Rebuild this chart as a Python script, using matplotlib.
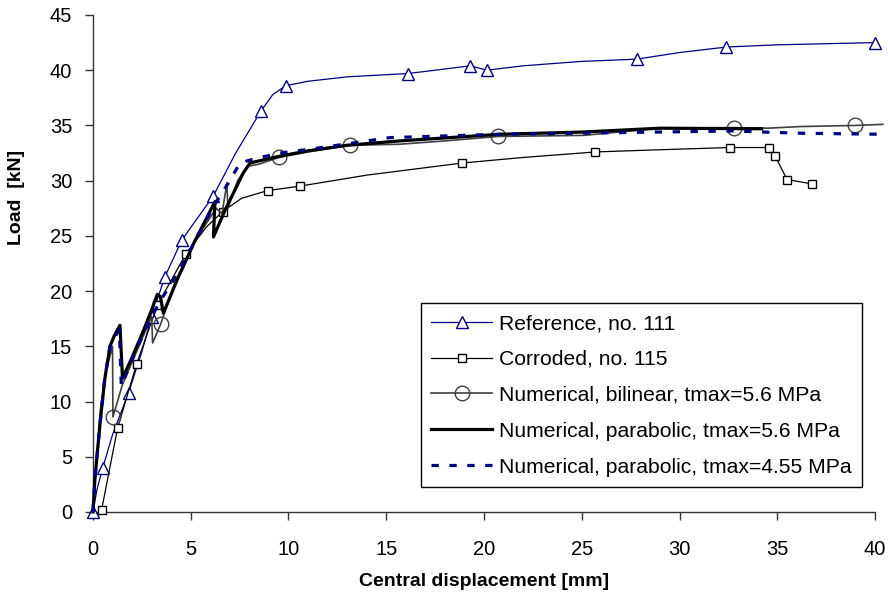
import matplotlib
matplotlib.use("Agg")
import matplotlib.pyplot as plt

plt.rcParams['font.family'] = ['Liberation Sans', 'DejaVu Sans']

# Reference, no. 111
ref_x = [0, 0.2, 0.5, 1.0, 1.82, 2.5, 3.0, 3.68, 4.54, 5.3, 6.15, 7.3, 8.59, 9.2, 9.86,
         11, 13, 16.1, 17.5, 19.3, 20.15, 22, 25, 27.8, 30, 32.4, 35, 37.5, 40]
ref_y = [0, 2.0, 4.0, 7.0, 10.8, 14.5, 17.7, 21.3, 24.6, 26.5, 28.6, 32.5, 36.3, 37.8, 38.6,
         39.0, 39.4, 39.7, 40.0, 40.4, 40.0, 40.4, 40.8, 41.0, 41.6, 42.1, 42.3, 42.4, 42.5]
ref_marks = [0, 2, 4, 6, 7, 8, 10, 12, 14, 17, 19, 20, 23, 25, 28]

# Corroded, no. 115
cor_x = [0.44, 1.26, 2.23, 3.29, 4.76, 5.8, 6.63, 7.6, 8.93, 10.57, 14, 18.9, 22, 25.7,
         29, 32.6, 34.6, 34.9, 35.5, 36.8]
cor_y = [0.18, 7.6, 13.4, 18.7, 23.4, 25.8, 27.2, 28.4, 29.1, 29.5, 30.5, 31.6, 32.1, 32.6,
         32.8, 33.0, 33.0, 32.2, 30.1, 29.7]
cor_marks = [0, 1, 2, 3, 4, 6, 8, 9, 11, 13, 15, 16, 17, 18, 19]

# Numerical, bilinear, tmax=5.6 MPa
bil_x = [0, 0.15, 0.4, 0.7, 1.0, 1.02, 1.5, 2.3, 3.0, 3.05, 3.46, 4.2, 5.2, 6.3, 6.6, 6.85,
         6.9, 7.4, 7.9, 8.5, 9.51, 11, 13.15, 15.7, 18, 20.7, 25.1, 29, 32.8, 34.5, 36.2,
         39.0, 40.4]
bil_y = [0, 4.0, 9.5, 13.0, 15.0, 8.6, 11.5, 14.8, 17.7, 15.3, 17.0, 20.8, 24.5, 27.5, 27.0,
         29.8, 27.5, 30.0, 31.3, 31.5, 32.1, 32.6, 33.2, 33.3, 33.6, 34.0, 34.1, 34.75, 34.8,
         34.75, 34.9, 35.0, 35.1]
bil_marks = [5, 10, 20, 22, 25, 28, 31]

# Numerical, parabolic, tmax=5.6 MPa
par_x = [0, 0.1, 0.36, 0.6, 0.87, 1.1, 1.38, 1.51, 2.0, 2.6, 3.0, 3.29, 3.45, 3.6, 4.3, 5.2,
         6.24, 6.16, 6.8, 7.3, 7.69, 8.03, 9.5, 11, 12.97, 15.7, 20.8, 25, 29.0, 34.2]
par_y = [0, 3.0, 8.0, 12.0, 15.0, 16.0, 16.9, 12.1, 14.0, 16.5, 18.3, 19.7, 19.5, 18.0, 21.0,
         24.5, 28.1, 24.9, 27.5, 29.3, 30.7, 31.6, 32.2, 32.7, 33.2, 33.6, 34.2, 34.4, 34.75,
         34.7]

# Numerical, parabolic, tmax=4.55 MPa
p45_x = [0, 0.1, 0.36, 0.6, 0.87, 1.1, 1.35, 1.45, 2.0, 2.8, 3.4, 4.3, 5.3, 6.2, 7.0, 7.52,
         8.3, 9.57, 11.3, 15.2, 20.7, 25, 32.7, 36, 40.4]
p45_y = [0, 3.0, 8.0, 12.0, 15.0, 15.8, 16.5, 11.4, 13.8, 17.0, 19.0, 21.5, 24.8, 27.8, 30.0,
         31.6, 32.0, 32.5, 32.9, 33.9, 34.2, 34.3, 34.5, 34.3, 34.2]

labels = ["Reference, no. 111", "Corroded, no. 115", "Numerical, bilinear, tmax=5.6 MPa",
          "Numerical, parabolic, tmax=5.6 MPa", "Numerical, parabolic, tmax=4.55 MPa"]

fig = plt.figure(figsize=(8.88, 6.0), dpi=100)
ax = fig.add_axes([0.1047, 0.1467, 0.8807, 0.8283])

navy = '#000080'
ax.plot(ref_x, ref_y, color=navy, lw=0.9, marker='^', markevery=ref_marks, ms=9,
        mfc='white', mec=navy, mew=1.0, clip_on=False, label=labels[0], zorder=3)
ax.plot(cor_x, cor_y, color='black', lw=0.9, marker='s', markevery=cor_marks, ms=5.5,
        mfc='white', mec='black', mew=1.0, clip_on=False, label=labels[1], zorder=3)
ax.plot(bil_x, bil_y, color='#404040', lw=1.2, marker='o', markevery=bil_marks, ms=10.5,
        mfc='none', mec='#404040', mew=1.0, clip_on=False, label=labels[2], zorder=3)
ax.plot(par_x, par_y, color='black', lw=2.3, clip_on=False, label=labels[3], zorder=4)
ax.plot(p45_x, p45_y, color=navy, lw=2.3, ls=(0, (2.3, 3.3)), clip_on=False,
        label=labels[4], zorder=4)

ax.set_xlim(0, 40)
ax.set_ylim(0, 45)
ax.set_xticks(range(0, 41, 5))
ax.set_yticks(range(0, 46, 5))
for s in ['top', 'right']:
    ax.spines[s].set_visible(False)
for s in ['left', 'bottom']:
    ax.spines[s].set_color('#333333')
    ax.spines[s].set_linewidth(1.0)
ax.tick_params(axis='both', direction='out', length=6, width=1.0, color='#333333',
               labelsize=14.5)
ax.tick_params(axis='x', pad=14)
ax.tick_params(axis='y', pad=9)

ax.set_xlabel("Central displacement [mm]", fontsize=14, fontweight='bold')
ax.set_ylabel("Load  [kN]", fontsize=14, fontweight='bold')
ax.xaxis.set_label_coords(0.5006, -0.122)
ax.yaxis.set_label_coords(-0.087, 0.632)

leg = ax.legend(loc='lower left', bbox_to_anchor=(0.419, 0.05), fontsize=15.2,
                frameon=True, fancybox=False, edgecolor='black', framealpha=1,
                handlelength=2.9, labelspacing=0.8, borderpad=0.5, handletextpad=0.3,
                borderaxespad=0)
leg.get_frame().set_linewidth(1.0)

fig.savefig("out.png", dpi=100)
